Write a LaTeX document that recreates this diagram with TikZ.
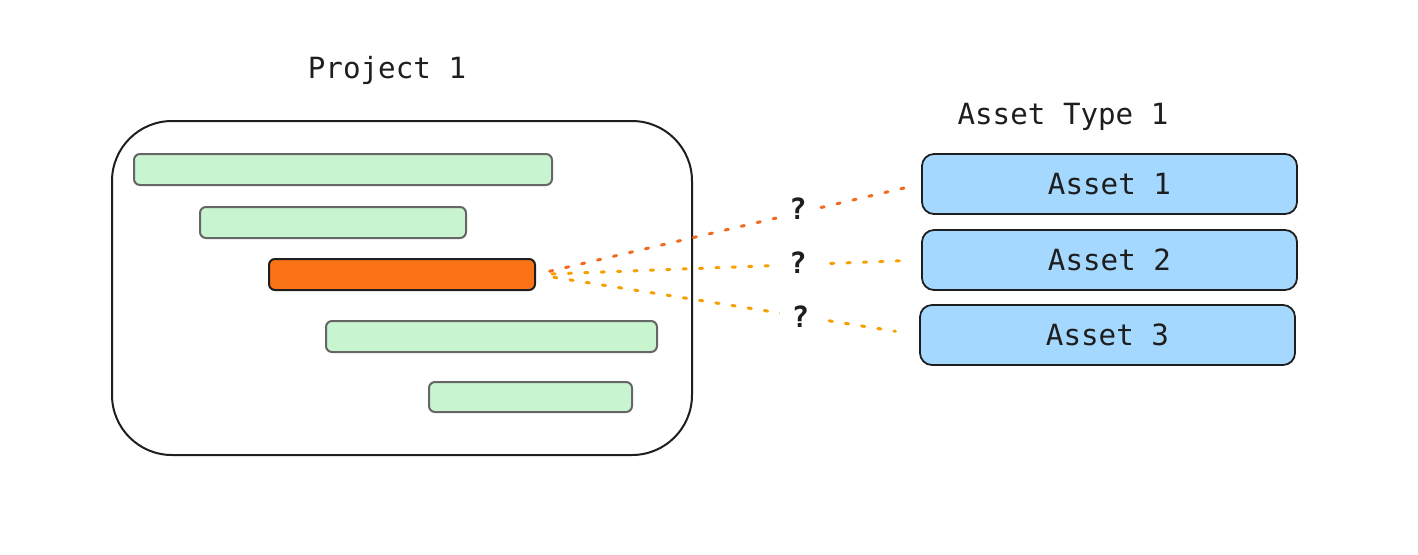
\documentclass[tikz,border=0pt]{standalone}
\usepackage{fontspec}
\setmonofont{DejaVu Sans Mono}
\begin{document}
\begin{tikzpicture}[x=0.5pt,y=-0.5pt,
  txt/.style={font=\ttfamily\fontsize{14.6pt}{17pt}\selectfont, text=ink},
  bar/.style={draw=barline, fill=bargreen, line width=1pt, rounded corners=3pt, inner sep=0pt},
  assetbox/.style={draw=ink, fill=assetblue, line width=0.9pt, rounded corners=6pt, inner sep=0pt, txt},
  link/.style={line width=1.5pt, line cap=round, dash pattern=on 1.6pt off 6.6pt},
  qmark/.style={txt, fill=white, inner xsep=6pt, inner ysep=2pt, font=\ttfamily\bfseries\fontsize{14.6pt}{17pt}\selectfont}
]
\definecolor{ink}{HTML}{1E1E1E}
\definecolor{barline}{HTML}{666666}
\definecolor{bargreen}{HTML}{C8F5D0}
\definecolor{assetblue}{HTML}{A5D8FF}
\definecolor{orangebar}{HTML}{F97316}
\definecolor{linkred}{HTML}{F2691E}
\definecolor{linkorange}{HTML}{F59F00}
\useasboundingbox (0,0) rectangle (1418,554);

\node[txt] (ptitle) at (387,70) {Project 1};
\node[draw=ink, line width=1pt, rounded corners=30pt, minimum width=290pt, minimum height=167pt, inner sep=0pt] (proj) at (402,288) {};

\node[bar, minimum width=209pt, minimum height=15.5pt] (b1) at (343,169.5) {};
\node[bar, minimum width=133pt, minimum height=15.5pt] (b2) at (333,222.5) {};
\node[draw=ink, fill=orangebar, line width=1pt, rounded corners=3pt, inner sep=0pt, minimum width=133pt, minimum height=15.5pt] (ob) at (402,274.5) {};
\node[bar, minimum width=165.5pt, minimum height=15.5pt] (b4) at (491.5,336.5) {};
\node[bar, minimum width=101.5pt, minimum height=15pt] (b5) at (530.5,397) {};

\node[txt] (atitle) at (1063,117) {Asset Type 1};
\node[assetbox, minimum width=187.5pt, minimum height=30pt] (a1) at (1109.5,184) {Asset 1};
\node[assetbox, minimum width=187.5pt, minimum height=30pt] (a2) at (1109.5,260) {Asset 2};
\node[assetbox, minimum width=187.5pt, minimum height=30pt] (a3) at (1107.5,335) {Asset 3};

\draw[link, draw=linkred, shorten <=7pt, shorten >=8.5pt] (ob.east) -- (a1.west) node[qmark, pos=0.68, yshift=2pt] {?};
\draw[link, draw=linkorange, shorten <=8pt, shorten >=8.5pt] (ob.east) -- (a2.west) node[qmark, pos=0.68, yshift=1pt] {?};
\draw[link, draw=linkorange, shorten <=9pt, shorten >=12pt] (ob.east) -- (a3.west) node[qmark, pos=0.69] {?};
\end{tikzpicture}
\end{document}
